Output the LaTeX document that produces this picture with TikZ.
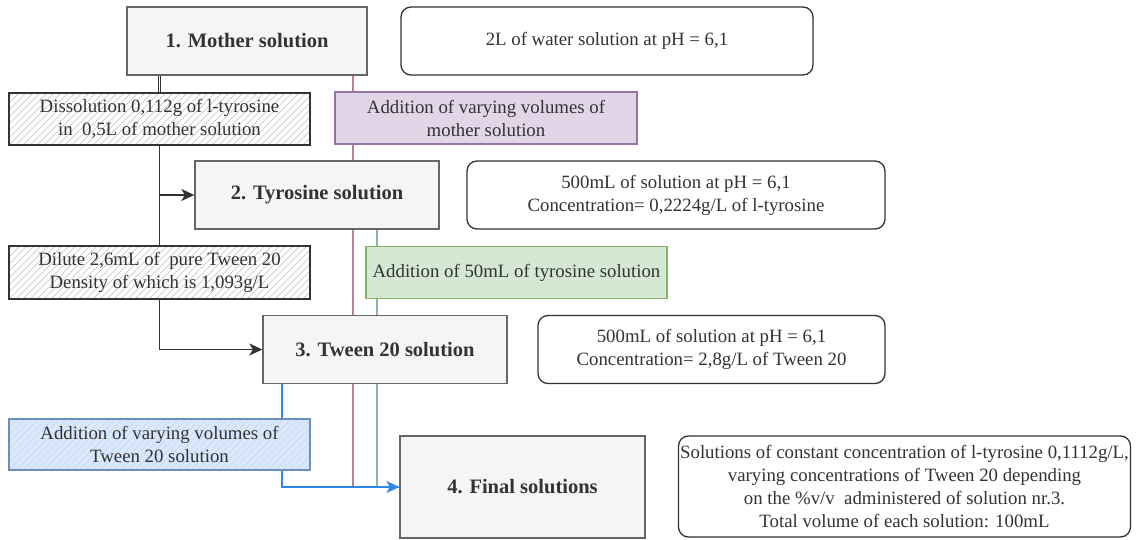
\documentclass[tikz,border=0pt]{standalone}
\usepackage{fontspec}
\setmainfont{Liberation Serif}
\usetikzlibrary{arrows.meta,calc}
\pgfdeclarelayer{bg}
\pgfsetlayers{bg,main}

\definecolor{boxgray}{HTML}{F5F5F5}
\definecolor{edgegray}{HTML}{666666}
\definecolor{ink}{HTML}{333333}
\definecolor{lilac}{HTML}{E1D5E7}
\definecolor{lilacedge}{HTML}{9673A6}
\definecolor{mint}{HTML}{D5E8D4}
\definecolor{mintedge}{HTML}{82B366}
\definecolor{sky}{HTML}{DAE8FC}
\definecolor{skyedge}{HTML}{6C8EBF}
\definecolor{skyhatch}{HTML}{C3D5EE}
\definecolor{pinkline}{HTML}{B9819F}
\definecolor{greenline}{HTML}{86B89E}
\definecolor{blueline}{HTML}{2B87EE}

\tikzset{
  base/.style={inner sep=0pt, align=center, text=ink,
    font=\fontsize{18.8pt}{23pt}\selectfont},
  stage/.style={base, draw=edgegray, fill=boxgray, line width=1.3pt,
    font=\bfseries\fontsize{20.5pt}{24pt}\selectfont},
  note/.style={base, draw=ink, fill=white, rounded corners=10pt, line width=1.3pt},
  hatchbox/.style 2 args={base, draw=#1, line width=1.3pt,
    path picture={
      \foreach \k in {-70,-63,...,320}{
        \draw[#2, line width=0.6pt]
          ($(path picture bounding box.south west)+(\k pt,0)$) -- ++(70pt,70pt);
      }}},
  addbox/.style 2 args={base, draw=#2, fill=#1, line width=1.3pt},
  tip/.style={-{Stealth[length=13pt,width=12pt,inset=3.5pt]}},
  plain/.style={ink, line width=1.6pt},
  flow/.style={plain, tip},
  tint/.style={line width=1.2pt, #1},
  blueflow/.style={blueline, line width=1.5pt},
}

\begin{document}
\begin{tikzpicture}[x=1pt,y=-1pt]
\useasboundingbox (0,0) rectangle (1136,540);

% main stages
\node[stage, minimum width=240pt, minimum height=68pt] (mother) at (247,41) {1. Mother solution};
\node[stage, minimum width=244pt, minimum height=68pt] (tyro) at (317,195) {2. Tyrosine solution};
\node[stage, minimum width=244pt, minimum height=68pt] (tween) at (385,349.5) {3. Tween 20 solution};
\node[stage, minimum width=245pt, minimum height=102pt] (final) at (522.5,487) {4. Final solutions};

% descriptions
\node[note, minimum width=412pt, minimum height=68pt] (water) at (607,41) {2L of water solution at pH = 6,1};
\node[note, minimum width=418pt, minimum height=68pt] (tyronote) at (676,195)
  {500mL of solution at pH = 6,1\\Concentration= 0,2224g/L of l-tyrosine};
\node[note, minimum width=347pt, minimum height=68pt] (tweennote) at (711.5,349.5)
  {500mL of solution at pH = 6,1\\Concentration= 2,8g/L of Tween 20};
\node[note, minimum width=452pt, minimum height=101pt] (finalnote) at (904.5,486.5)
  {Solutions of constant concentration of l-tyrosine 0,1112g/L,\\
   varying concentrations of Tween 20 depending\\
   on the \%v/v~ administered of solution nr.3.\\
   Total volume of each solution: 100mL};

% preparation steps
\node[hatchbox={ink}{gray!50}, fill=white, minimum width=301pt, minimum height=52pt] (diss) at (159.5,119)
  {Dissolution 0,112g of l-tyrosine\\ in~ 0,5L of mother solution};
\node[hatchbox={ink}{gray!50}, fill=white, minimum width=301pt, minimum height=53pt] (dil) at (159.5,272.5)
  {Dilute 2,6mL of~ pure Tween 20\\Density of which is 1,093g/L};
\node[hatchbox={skyedge}{skyhatch}, fill=sky, minimum width=301pt, minimum height=51pt] (addtw) at (159.5,444.5)
  {Addition of varying volumes of\\Tween 20 solution};
\node[addbox={lilac}{lilacedge}, minimum width=302pt, minimum height=52pt] (addmom) at (486,118)
  {Addition of varying volumes of\\mother solution};
\node[addbox={mint}{mintedge}, minimum width=301pt, minimum height=52pt] (addtyr) at (516.5,272.5)
  {Addition of 50mL of tyrosine solution};

% connectors
\begin{pgfonlayer}{bg}
  \draw[tint=pinkline] ([xshift=106pt]mother.south) |- (final.west);
  \draw[tint=greenline] ([xshift=60pt]tyro.south) |- (final.west);
  \draw[ink, line width=1.1pt, double=white, double distance=1.2pt] (mother.south -| diss.north) -- (diss.north);
  \draw[flow] (diss.south) |- (tyro.west);
  \draw[plain] (diss.south) -- (dil.north);
  \draw[flow] (dil.south) |- (tween.west);
  \draw[blueflow] ([xshift=-103pt]tween.south) coordinate (bt) -- (bt |- addtw.north);
  \draw[blueflow, tip] (bt |- addtw.south) |- (final.west);
\end{pgfonlayer}
\end{tikzpicture}
\end{document}
